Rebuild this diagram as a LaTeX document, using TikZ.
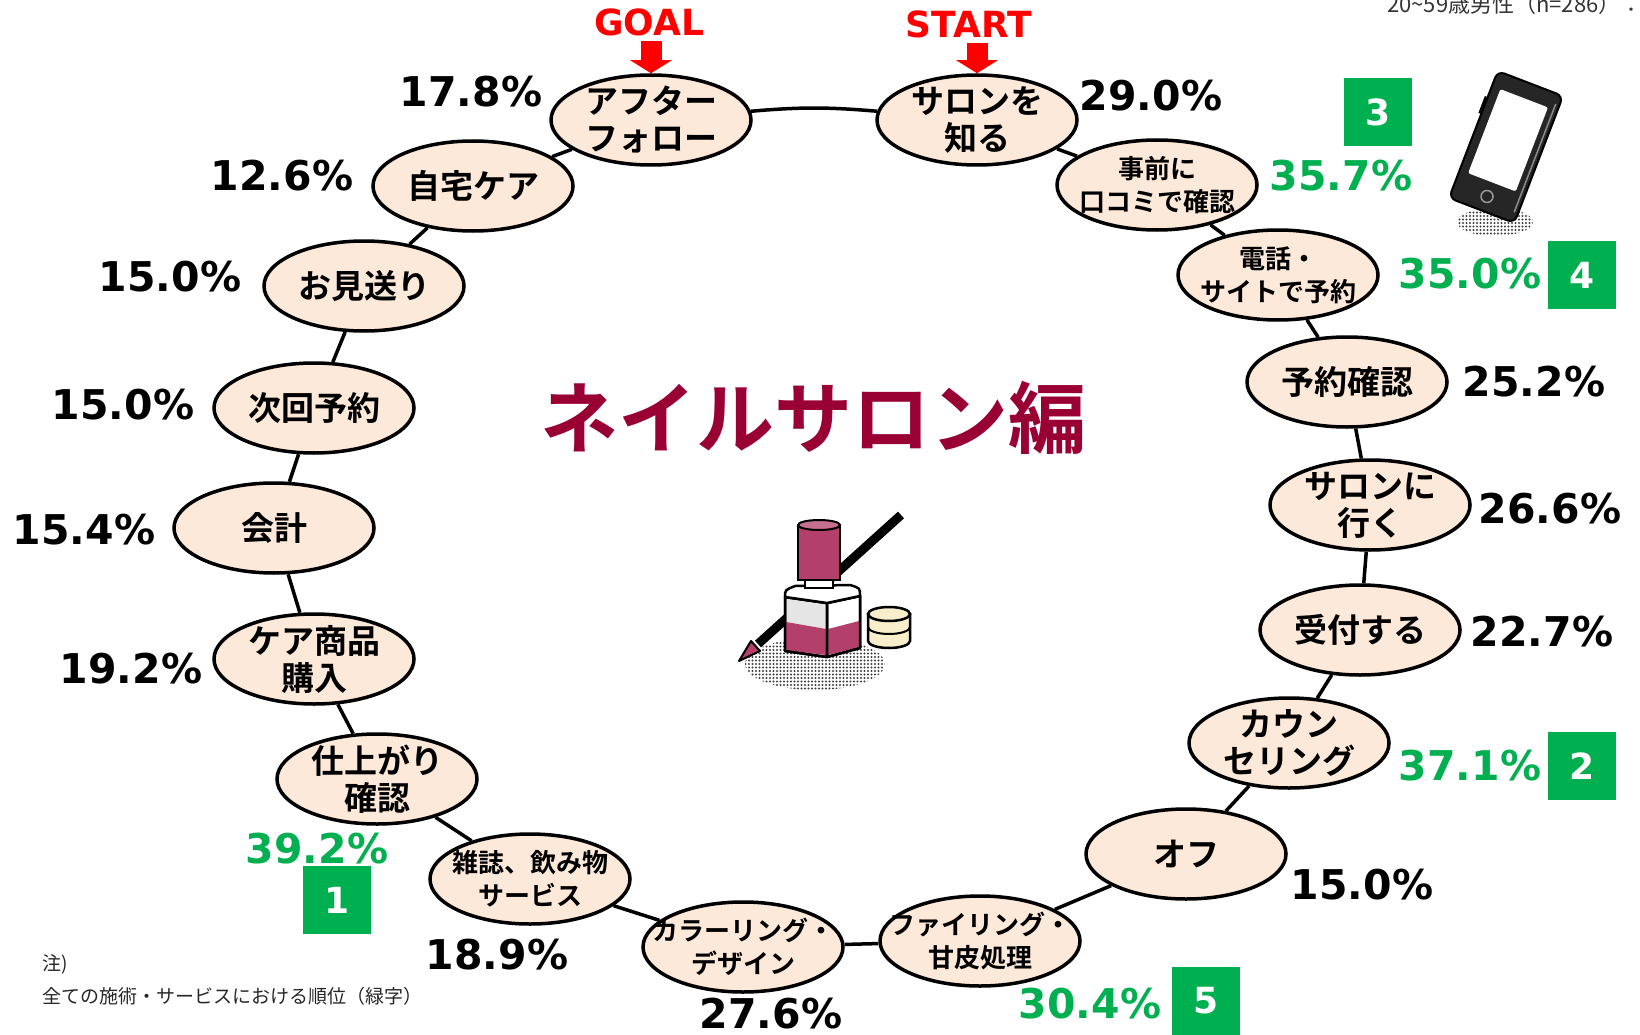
\documentclass[tikz,border=0pt]{standalone}
\usepackage{fontspec}
\newfontfamily\jpfont{Noto Sans CJK JP}[BoldFont={Noto Sans CJK JP Bold}]
\newfontfamily\numfont{DejaVu Sans}
\usepackage{tikz}
\usetikzlibrary{shapes.geometric, arrows.meta, patterns.meta}

\definecolor{peach}{HTML}{FDE9D9}
\definecolor{rankgreen}{HTML}{00B050}
\definecolor{titlered}{HTML}{990033}
\definecolor{nailpink}{HTML}{B3406B}
\definecolor{cream}{HTML}{F7EFCB}

\begin{document}
\begin{tikzpicture}[x=1pt, y=-1pt,
    stage/.style={draw, ellipse, line width=3.5pt, fill=peach, minimum width=200pt, minimum height=90pt,
        inner xsep=-30pt, inner ysep=-20pt, align=center, font=\jpfont\bfseries\fontsize{33}{37}\selectfont},
    smallstage/.style={stage, font=\jpfont\bfseries\fontsize{26}{33}\selectfont},
    pct/.style={inner sep=0pt, font=\numfont\bfseries\fontsize{41}{41}\selectfont},
    hipct/.style={pct, text=rankgreen},
    rank/.style={fill=rankgreen, text=white, minimum size=68pt, inner sep=0pt, font=\numfont\bfseries\fontsize{36}{36}\selectfont},
    marker/.style={inner sep=0pt, text=red, font=\numfont\bfseries\fontsize{36}{36}\selectfont},
    pointer/.style={red, line width=21pt, shorten <=5pt, -{Triangle[width=41pt, length=13pt]}},
    link/.style={line width=3.5pt}]
    \useasboundingbox (0,0) rectangle (1640,1035);

    \node (sample) [anchor=base west, inner sep=0pt, text=black!80, font=\jpfont\fontsize{22}{22}\selectfont] at (1387,13) {20\textasciitilde59歳男性（n=286）：};

    % the salon visit, clockwise from START
    \node (know) [stage] at (977,120) {サロンを\\知る};
    \node (review) [smallstage] at (1157,185) {事前に\\口コミで確認};
    \node (booking) [smallstage] at (1278,275) {電話・\\サイトで予約};
    \node (confirm) [stage] at (1347,382) {予約確認};
    \node (visit) [stage] at (1370,505) {サロンに\\行く};
    \node (reception) [stage] at (1360,630) {受付する};
    \node (counsel) [stage] at (1289,743) {カウン\\セリング};
    \node (off) [stage] at (1186,854) {オフ};
    \node (filing) [smallstage] at (980,941) {ファイリング・\\甘皮処理};
    \node (colour) [smallstage] at (743,947) {カラーリング・\\デザイン};
    \node (drinks) [smallstage] at (530,879) {雑誌、飲み物\\サービス};
    \node (finish) [stage] at (377,779) {仕上がり\\確認};
    \node (products) [stage] at (314,659) {ケア商品\\購入};
    \node (payment) [stage] at (274,528) {会計};
    \node (nextvisit) [stage] at (314,408) {次回予約};
    \node (seeoff) [stage] at (364,286) {お見送り};
    \node (homecare) [stage] at (473,186) {自宅ケア};
    \node (aftercare) [stage] at (651,120) {アフター\\フォロー};

    \draw [link] (know) -- (review);
    \draw [link] (review) -- (booking);
    \draw [link] (booking) -- (confirm);
    \draw [link] (confirm) -- (visit);
    \draw [link] (visit) -- (reception);
    \draw [link] (reception) -- (counsel);
    \draw [link] (counsel) -- (off);
    \draw [link] (off) -- (filing);
    \draw [link] (filing) -- (colour);
    \draw [link] (colour) -- (drinks);
    \draw [link] (drinks) -- (finish);
    \draw [link] (finish) -- (products);
    \draw [link] (products) -- (payment);
    \draw [link] (payment) -- (nextvisit);
    \draw [link] (nextvisit) -- (seeoff);
    \draw [link] (seeoff) -- (homecare);
    \draw [link] (homecare) -- (aftercare);
    \draw [link] (aftercare) to [bend left=5] (know);

    \node (start) [marker] at (969,24) {START};
    \node (goal) [marker] at (649,22) {GOAL};
    \draw [pointer] (start.south -| know) -- (know);
    \draw [pointer] (goal.south -| aftercare) -- (aftercare);

    % shares
    \node (knowpct) [pct] at (1151,96) {29.0\%};
    \node (reviewpct) [hipct] at (1341,176) {35.7\%};
    \node (bookingpct) [hipct] at (1470,274) {35.0\%};
    \node (confirmpct) [pct] at (1534,382) {25.2\%};
    \node (visitpct) [pct] at (1550,509) {26.6\%};
    \node (receptionpct) [pct] at (1542,632) {22.7\%};
    \node (counselpct) [hipct] at (1470,766) {37.1\%};
    \node (offpct) [pct] at (1362,885) {15.0\%};
    \node (filingpct) [hipct] at (1090,1004) {30.4\%};
    \node (colourpct) [pct] at (771,1014) {27.6\%};
    \node (drinkspct) [pct] at (497,955) {18.9\%};
    \node (finishpct) [hipct] at (317,849) {39.2\%};
    \node (productspct) [pct] at (131,669) {19.2\%};
    \node (paymentpct) [pct] at (84,530) {15.4\%};
    \node (nextvisitpct) [pct] at (123,405) {15.0\%};
    \node (seeoffpct) [pct] at (170,277) {15.0\%};
    \node (homecarepct) [pct] at (282,176) {12.6\%};
    \node (aftercarepct) [pct] at (471,92) {17.8\%};

    \node (rank1) [rank] at (337,900) {1};
    \node (rank2) [rank] at (1582,766) {2};
    \node (rank3) [rank] at (1378,112) {3};
    \node (rank4) [rank] at (1582,275) {4};
    \node (rank5) [rank] at (1206,1001) {5};

    \node (title) [text=titlered, font=\jpfont\bfseries\fontsize{78}{78}\selectfont] at (813,418) {ネイルサロン編};

    \node (note) [anchor=north west, align=left, inner sep=0pt, text=black!85, font=\jpfont\fontsize{19}{33}\selectfont] at (42,954) {注)\\全ての施術・サービスにおける順位（緑字）};

    % smartphone
    \fill [pattern={Dots[distance=3.5pt, radius=1.1pt]}, pattern color=black!75] (1495,222) ellipse [x radius=38pt, y radius=14pt];
    \begin{scope}[shift={(1506,147)}, rotate=-21]
        \filldraw [fill=black!85, line width=2pt, rounded corners=7pt] (-35,-68) rectangle (35,68);
        \draw [black!45, line width=1.5pt] (31,-58) -- (31,58);
        \fill [white, rounded corners=2pt] (-26,-52) rectangle (25,38);
        \draw [black!40, line width=1.5pt] (0,53) circle [radius=6pt];
        \fill [black] (-38,-40) rectangle (-34,-22);
    \end{scope}

    % nail polish
    \fill [pattern={Dots[distance=3.5pt, radius=1.1pt]}, pattern color=black!75] (815,664) ellipse [x radius=70pt, y radius=26pt];
    \draw [line width=9pt] (901,515) -- (758,644);
    \filldraw [fill=nailpink, line width=2pt, line join=round] (751,641) -- (760,651) -- (739,661) -- cycle;
    \filldraw [fill=black!10, line width=2.5pt, line join=round] (785,597) -- (827,603) -- (827,657) -- (785,651) -- cycle;
    \fill [nailpink] (786,622) -- (826,629) -- (826,655) -- (786,650) -- cycle;
    \filldraw [fill=white, line width=2.5pt, line join=round] (827,603) -- (860,596) -- (860,648) -- (827,657) -- cycle;
    \fill [nailpink] (828,629) -- (859,621) -- (859,647) -- (828,655) -- cycle;
    \draw [line width=2.5pt, line join=round] (785,597) -- (827,603) -- (860,596) -- (860,648) -- (827,657) -- (785,651) -- cycle (827,603) -- (827,657);
    \filldraw [fill=white, line width=2.5pt, line join=round] (785,597) .. controls (785,590) .. (795,586) -- (850,585) .. controls (860,588) .. (860,596) -- (827,603) -- cycle;
    \filldraw [fill=white, line width=2.5pt] (805,578) rectangle (833,588);
    \filldraw [fill=nailpink, line width=2.5pt] (798,525) rectangle (840,580);
    \filldraw [fill=nailpink!75!white, line width=2pt] (819,525) ellipse [x radius=21pt, y radius=5pt];
    \filldraw [fill=cream, line width=2.5pt] (868,614) -- (868,641) arc [start angle=180, end angle=360, x radius=21pt, y radius=7pt] -- (910,614) -- cycle;
    \draw [line width=2pt] (868,627) arc [start angle=180, end angle=360, x radius=21pt, y radius=7pt];
    \filldraw [fill=cream, line width=2.5pt] (889,614) ellipse [x radius=21pt, y radius=7pt];
\end{tikzpicture}
\end{document}
